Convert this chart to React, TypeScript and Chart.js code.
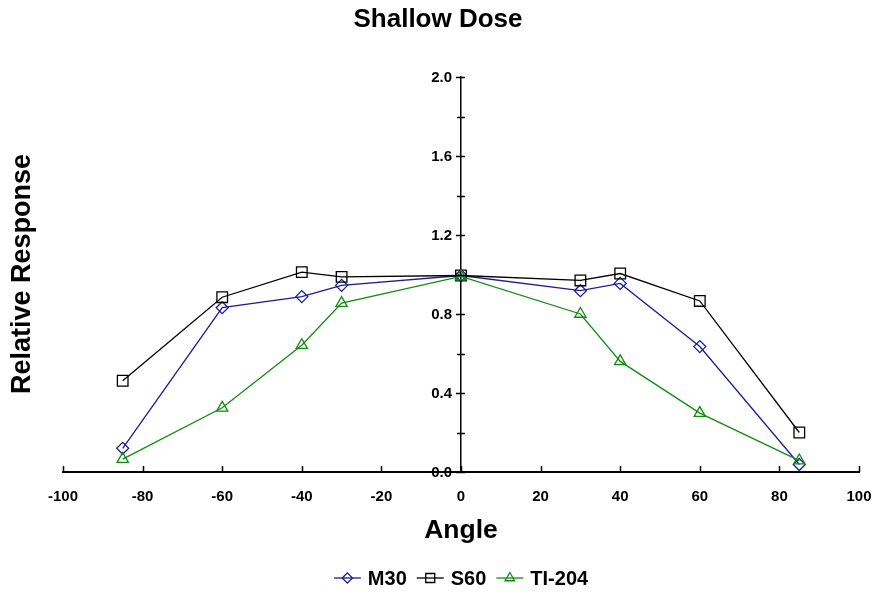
import { useEffect, useRef } from 'react';
import { Chart, registerables } from 'chart.js';

Chart.register(...registerables);

// Measured relative response at each incidence angle (degrees)
const angles = [-85, -60, -40, -30, 0, 30, 40, 60, 85];
const m30 = [0.12, 0.832, 0.888, 0.945, 0.995, 0.918, 0.955, 0.635, 0.038];
const s60 = [0.462, 0.885, 1.012, 0.988, 0.995, 0.97, 1.005, 0.866, 0.2];
const ti204 = [0.065, 0.325, 0.642, 0.855, 0.99, 0.8, 0.56, 0.298, 0.058];

const seriesNames = ['M30', 'S60', 'TI-204'];
const chartTitle = 'Shallow Dose';
const xTitle = 'Angle';
const yTitle = 'Relative Response';

const FONT = '"Liberation Sans", Arial, Helvetica, sans-serif';
const BLUE = '#1c1c96';
const BLACK = '#000000';
const GREEN = '#118c11';

const colors = [BLUE, BLACK, GREEN];
const styles = ['rectRot', 'rect', 'triangle'];
const radii = [6, 7.5, 6.5];

const toPoints = (vals: number[]) => angles.map((a, i) => ({ x: a, y: vals[i] }));

function drawMarker(ctx: CanvasRenderingContext2D, style: string, r: number, x: number, y: number) {
  ctx.beginPath();
  if (style === 'rectRot') {
    ctx.moveTo(x - r, y);
    ctx.lineTo(x, y - r);
    ctx.lineTo(x + r, y);
    ctx.lineTo(x, y + r);
    ctx.closePath();
  } else if (style === 'rect') {
    const s = r * Math.SQRT1_2;
    ctx.rect(x - s, y - s, 2 * s, 2 * s);
  } else {
    for (let k = 0; k < 3; k++) {
      const a = (k * 2 * Math.PI) / 3;
      const px = x + Math.sin(a) * r;
      const py = y - Math.cos(a) * r;
      if (k === 0) ctx.moveTo(px, py);
      else ctx.lineTo(px, py);
    }
    ctx.closePath();
  }
  ctx.stroke();
}

// Inward ticks, y tick labels left of the centred axis, titles and a line+marker legend
const decorations = {
  id: 'decorations',
  afterDraw(chart: any) {
    const { ctx, chartArea, scales } = chart;
    const xs = scales.x;
    const ys = scales.y;
    const axisX = xs.getPixelForValue(0);
    const axisY = ys.getPixelForValue(0);
    ctx.save();
    ctx.strokeStyle = '#000';
    ctx.lineWidth = 1.5;

    // x ticks pointing up from the axis line
    ctx.beginPath();
    xs.ticks.forEach((t: any) => {
      const px = Math.round(xs.getPixelForValue(t.value)) + 0.5;
      ctx.moveTo(px, axisY);
      ctx.lineTo(px, axisY - 6);
    });
    ctx.stroke();

    // y major ticks plus minor ticks halfway between them
    ctx.beginPath();
    const yt = ys.ticks.map((t: any) => t.value);
    yt.forEach((v: number, i: number) => {
      const py = Math.round(ys.getPixelForValue(v)) + 0.5;
      ctx.moveTo(axisX - 5, py);
      ctx.lineTo(axisX + 4, py);
      if (i < yt.length - 1) {
        const pm = Math.round(ys.getPixelForValue((v + yt[i + 1]) / 2)) + 0.5;
        ctx.moveTo(axisX - 4, pm);
        ctx.lineTo(axisX + 4, pm);
      }
    });
    ctx.stroke();

    ctx.fillStyle = '#000';

    // y tick labels
    ctx.font = `bold 15px ${FONT}`;
    ctx.textAlign = 'right';
    ctx.textBaseline = 'middle';
    ys.ticks.forEach((t: any) => {
      ctx.fillText(t.label, axisX - 9, ys.getPixelForValue(t.value) + 1);
    });

    ctx.textAlign = 'center';
    ctx.font = `bold 26px ${FONT}`;
    ctx.fillText(chartTitle, chart.width / 2, 20);

    const cx = (chartArea.left + chartArea.right) / 2;
    ctx.font = `bold 26.5px ${FONT}`;
    ctx.fillText(xTitle, cx, 531);

    ctx.save();
    ctx.translate(23, 274);
    ctx.rotate(-Math.PI / 2);
    ctx.font = `bold 27px ${FONT}`;
    ctx.fillText(yTitle, 0, 0);
    ctx.restore();

    // legend
    ctx.font = `bold 20px ${FONT}`;
    const lineLen = 27;
    const gapText = 7;
    const gapItem = 10;
    const widths = seriesNames.map((n) => ctx.measureText(n).width);
    const total = widths.reduce((s, w) => s + lineLen + gapText + w, 0) + gapItem * (seriesNames.length - 1);
    let x = cx - total / 2;
    const ly = 578;
    chart.data.datasets.forEach((ds: any, i: number) => {
      ctx.strokeStyle = ds.borderColor;
      ctx.lineWidth = 1.3;
      ctx.beginPath();
      ctx.moveTo(x, ly);
      ctx.lineTo(x + lineLen, ly);
      ctx.stroke();
      drawMarker(ctx, ds.pointStyle, ds.pointRadius * 0.85, x + lineLen / 2, ly);
      ctx.fillStyle = '#000';
      ctx.textAlign = 'left';
      ctx.fillText(seriesNames[i], x + lineLen + gapText, ly + 1);
      x += lineLen + gapText + widths[i] + gapItem;
    });
    ctx.restore();
  },
};

export default function App() {
  const ref = useRef<HTMLCanvasElement>(null);

  useEffect(() => {
    document.body.style.margin = '0';
    const series = [m30, s60, ti204];
    const chart = new Chart(ref.current as HTMLCanvasElement, {
      type: 'line',
      data: {
        datasets: series.map((vals, i) => ({
          label: seriesNames[i],
          data: toPoints(vals),
          borderColor: colors[i],
          backgroundColor: 'rgba(0,0,0,0)',
          borderWidth: 1.3,
          pointStyle: styles[i] as any,
          pointRadius: radii[i],
          pointBorderColor: colors[i],
          pointBackgroundColor: 'rgba(0,0,0,0)',
          pointBorderWidth: 1.3,
          tension: 0,
          order: 3 - i,
        })),
      },
      options: {
        responsive: false,
        animation: false,
        clip: false as any,
        layout: { padding: { left: 63, right: 17, top: 77, bottom: 122 } },
        scales: {
          x: {
            type: 'linear',
            position: { y: 0 } as any,
            min: -100,
            max: 100,
            afterFit: (s: any) => {
              s.paddingLeft = 0;
              s.paddingRight = 0;
            },
            ticks: {
              stepSize: 20,
              color: '#000',
              padding: 8,
              font: { family: FONT, size: 15, weight: 'bold' },
            },
            grid: { display: false, drawTicks: true, tickLength: 8 },
            border: { display: true, color: '#000', width: 2 },
          },
          y: {
            type: 'linear',
            position: { x: 0 } as any,
            min: 0,
            max: 2,
            afterFit: (s: any) => {
              s.paddingTop = 0;
              s.paddingBottom = 0;
            },
            ticks: {
              display: false,
              stepSize: 0.4,
              callback: (v: any) => Number(v).toFixed(1),
            },
            grid: { display: false },
            border: { display: true, color: '#000', width: 1.5 },
          },
        },
        plugins: {
          legend: { display: false },
          title: { display: false },
          tooltip: { enabled: false },
        },
      },
      plugins: [decorations],
    });
    return () => chart.destroy();
  }, []);

  return <canvas ref={ref} width={876} height={594} style={{ display: 'block' }} />;
}
